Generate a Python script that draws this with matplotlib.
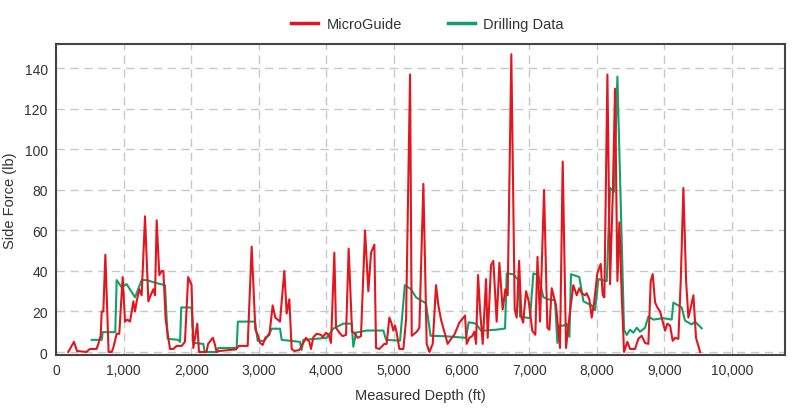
import matplotlib
matplotlib.use("Agg")
import matplotlib.pyplot as plt
from matplotlib.ticker import FuncFormatter

# MicroGuide series (depth ft, side force lb)
mg_depth = [180, 266, 311, 450, 500, 600, 626, 661, 676, 700, 730, 758, 778, 822, 847, 897, 936,
            986, 1021, 1055, 1095, 1144, 1168, 1193, 1232, 1267, 1317, 1366, 1400, 1440, 1465,
            1489, 1528, 1563, 1588, 1622, 1686, 1735, 1785, 1858, 1907, 1955, 2005, 2031, 2090,
            2115, 2225, 2250, 2320, 2352, 2375, 2416, 2663, 2702, 2835, 2894, 2949, 2983, 3018,
            3057, 3096, 3156, 3205, 3244, 3313, 3377, 3412, 3451, 3486, 3525, 3600, 3649, 3698,
            3747, 3772, 3806, 3856, 3920, 3945, 3994, 4034, 4068, 4117, 4142, 4191, 4241, 4290,
            4329, 4379, 4413, 4462, 4511, 4571, 4620, 4660, 4709, 4734, 4783, 4857, 4891, 4931,
            4960, 4990, 5015, 5039, 5079, 5138, 5178, 5237, 5262, 5336, 5375, 5434, 5483, 5523,
            5572, 5621, 5656, 5695, 5744, 5793, 5843, 5892, 5966, 6050, 6075, 6114, 6154, 6188,
            6213, 6243, 6272, 6312, 6361, 6385, 6435, 6469, 6518, 6558, 6607, 6647, 6681, 6735,
            6785, 6814, 6850, 6885, 6910, 6953, 6992, 7045, 7090, 7122, 7160, 7219, 7268, 7298,
            7332, 7396, 7455, 7495, 7544, 7603, 7652, 7702, 7741, 7776, 7825, 7850, 7889, 7924,
            7958, 8008, 8057, 8087, 8111, 8156, 8195, 8235, 8269, 8304, 8333, 8368, 8402, 8451,
            8491, 8565, 8614, 8663, 8713, 8762, 8797, 8826, 8861, 8895, 8935, 8974, 9009, 9043,
            9083, 9122, 9157, 9206, 9241, 9280, 9320, 9354, 9389, 9428, 9467, 9527]
mg_force = [0, 5, 0.5, 0, 1.5, 1.5, 4, 8, 20, 20, 48, 20, 0, 0, 2, 9, 9,
            37, 15, 16, 15, 25, 20, 25, 31, 28, 67, 25, 28, 31, 28,
            65, 38, 40, 40, 16, 1.5, 1.5, 3, 3, 5, 37, 33, 2, 14,
            0, 0, 4, 7, 3.5, 0, 0.5, 1.3, 3, 3, 52, 11, 8.5, 4.5,
            3.5, 7, 8.5, 23, 17, 15, 40, 19, 26, 1.5, 0.5, 1, 4, 7,
            5, 1.5, 7.3, 9, 8.5, 7.3, 9.5, 8.5, 4.5, 49, 12, 9.5, 7.8, 8.5,
            51, 10, 9.5, 7, 7.8, 60, 30, 49, 53, 2, 1.5, 4, 4, 17,
            14.5, 10.5, 13, 9.5, 1.5, 1.5, 16, 137, 8, 10, 12, 83, 4, 0,
            4, 33, 23, 16, 10, 4, 6.5, 8.5, 14.5, 18, 4, 7, 7.8, 10,
            4, 38, 21, 4, 36, 7, 43, 45, 15, 44, 21, 31, 28, 147,
            21, 17, 45, 17, 14.5, 30, 25, 10.5, 8.5, 47, 15, 80, 12, 11,
            31.5, 23, 2, 94, 2, 20, 33, 28, 31.5, 29, 28, 29, 26, 17,
            24, 39, 43.5, 28, 27, 137, 33.5, 77, 130, 35, 64, 28, 0, 5,
            1.5, 1.5, 6.5, 8, 4.5, 4, 35, 38.5, 24.5, 22, 20, 15, 10.5, 14,
            13, 5.5, 7, 6.5, 35, 81, 35, 17, 22, 28, 7, 0]

# Drilling Data series
dd_depth = [528, 676, 690, 877, 897, 970, 1045, 1169, 1267, 1341, 1489, 1612, 1652, 1810, 1835,
            1852, 2005, 2035, 2179, 2200, 2376, 2400, 2672, 2690, 2944, 2983, 3082, 3131, 3195,
            3314, 3338, 3609, 3634, 3659, 3905, 4004, 4103, 4250, 4374, 4398, 4438, 4596, 4842,
            4882, 5089, 5160, 5251, 5325, 5473, 5540, 5744, 6065, 6104, 6213, 6287, 6509, 6642,
            6667, 6765, 6839, 6864, 7012, 7061, 7135, 7209, 7283, 7381, 7416, 7445, 7505, 7554,
            7594, 7618, 7741, 7801, 7924, 7973, 8023, 8146, 8195, 8254, 8304, 8402, 8442, 8491,
            8540, 8590, 8639, 8713, 8762, 8836, 8984, 9107, 9132, 9255, 9304, 9403, 9452, 9551]
dd_force = [6, 6, 9.8, 9.8, 35.5, 32, 33.5, 27, 35.5, 35.5, 34, 33, 6.5, 6, 5,
            22, 22, 4.5, 4, 0, 0, 2, 2, 15, 15, 5.5, 5.5, 8, 11.5,
            11.5, 6, 5, 1, 6, 6.7, 7, 11.6, 14, 14, 2.6, 9.6, 10.6, 10.6,
            6, 5.6, 33, 31, 27, 24, 8, 7.8, 7, 14.7, 14, 10.5, 11, 11.6,
            38.8, 38.4, 35.5, 17.5, 16.7, 38.8, 38, 27, 26, 25.5, 4.5, 13, 13, 14,
            7.5, 38.4, 37, 25, 23, 20.6, 36, 35, 81, 79, 136, 11, 8.4, 11,
            9.5, 12, 10, 12, 17.5, 16, 16.7, 16, 24.4, 22, 15.5, 13.6, 15, 11.7]

x_ticks = list(range(0, 10001, 1000))
y_ticks = list(range(0, 141, 20))

RED = "#e3161e"
GREEN = "#12a06a"
TXT = "#333333"

plt.rcParams['font.family'] = ['Liberation Sans', 'DejaVu Sans']

fig = plt.figure(figsize=(8.0, 4.14), dpi=100)
ax = fig.add_axes([0.07, 0.14, 0.911, 0.751])

ax.plot(mg_depth, mg_force, color=RED, lw=1.5, label="MicroGuide", zorder=3)
ax.plot(dd_depth, dd_force, color=GREEN, lw=1.5, label="Drilling Data", zorder=2)

ax.set_xlim(0, 10780)
ax.set_ylim(-1.5, 152)
ax.set_xticks(x_ticks)
ax.set_yticks(y_ticks)
ax.xaxis.set_major_formatter(FuncFormatter(lambda v, p: f"{int(v):,}"))
ax.tick_params(length=0, labelsize=10, colors=TXT, pad=6)
ax.grid(True, color="#c8c8c8", linestyle=(0, (6, 4)), linewidth=1.0)
ax.set_axisbelow(True)
for s in ax.spines.values():
    s.set_color("#444444")
    s.set_linewidth(1.5)

ax.set_xlabel("Measured Depth (ft)", fontsize=10.5, color=TXT, labelpad=8)
ax.set_ylabel("Side Force (lb)", fontsize=10.5, color=TXT, labelpad=5)

leg = ax.legend(loc="center", bbox_to_anchor=(0.51, 1.065), ncol=2, frameon=False,
                fontsize=10.5, handlelength=1.8, columnspacing=3.2, handletextpad=0.6)
for t in leg.get_texts():
    t.set_color(TXT)
for h in leg.get_lines():
    h.set_linewidth(2.5)

fig.savefig("out.png", dpi=100, facecolor="white")
